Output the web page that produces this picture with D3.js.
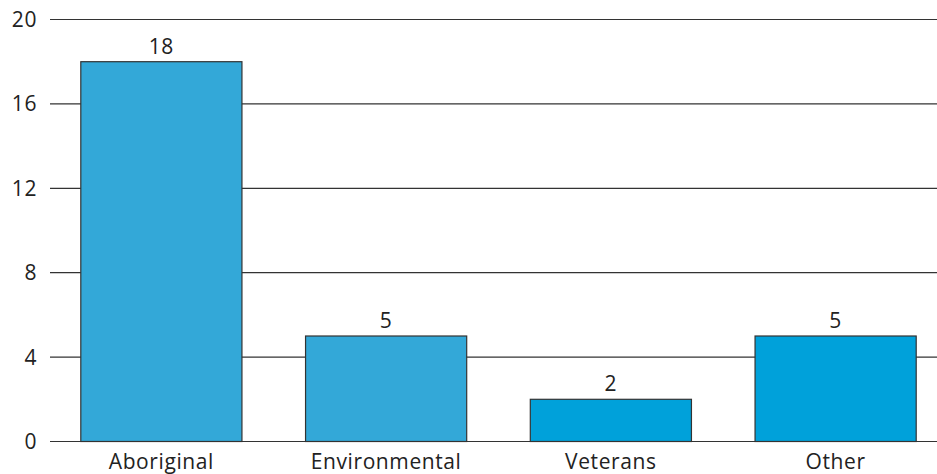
<!DOCTYPE html>
<html><head><meta charset="utf-8">
<script src="https://cdn.jsdelivr.net/npm/d3@7"></script>
<style>body{margin:0;background:#fff;} text{font-family:"Open Sans",sans-serif;fill:#222;letter-spacing:0.6px;}</style>
</head><body>
<svg id="c" width="937" height="474"></svg>
<script>
const categories = ["Aboriginal","Environmental","Veterans","Other"];
const values = [18,5,2,5];
const barColors = ["#33a8d8","#33a8d8","#00a1da","#00a1da"];
const yTicks = [0,4,8,12,16,20];

const svg = d3.select("#c");
const x = d3.scaleBand().domain(categories).range([49,948]).paddingInner(0.283).paddingOuter(0.1415);
const y = d3.scaleLinear().domain([0,20]).range([441.5,19.5]);

svg.append("g").selectAll("line").data(yTicks).join("line")
  .attr("x1",50).attr("x2",937).attr("y1",d=>y(d)).attr("y2",d=>y(d))
  .attr("stroke","#333").attr("stroke-width",1.2);
svg.append("g").selectAll("text").data(yTicks).join("text")
  .attr("x",37).attr("y",d=>y(d)+7.5).attr("text-anchor","end")
  .attr("font-size",21).text(d=>d);
svg.append("g").selectAll("rect").data(values).join("rect")
  .attr("x",(d,i)=>x(categories[i])).attr("width",x.bandwidth())
  .attr("y",d=>y(d)).attr("height",d=>y(0)-y(d))
  .attr("fill",(d,i)=>barColors[i]).attr("stroke","#333").attr("stroke-width",1.2);
svg.append("g").selectAll("text").data(values).join("text")
  .attr("x",(d,i)=>x(categories[i])+x.bandwidth()/2).attr("y",d=>y(d)-8)
  .attr("text-anchor","middle").attr("font-size",21).text(d=>d);
svg.append("g").selectAll("text").data(categories).join("text")
  .attr("x",d=>x(d)+x.bandwidth()/2).attr("y",469)
  .attr("text-anchor","middle").attr("font-size",21).text(d=>d);
</script>
</body></html>
